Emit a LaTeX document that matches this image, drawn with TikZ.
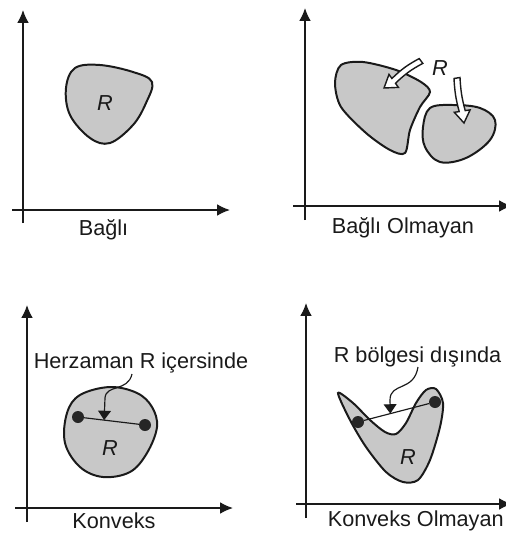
\documentclass[tikz,border=0pt]{standalone}
\usepackage{fontspec}
\setmainfont{Liberation Sans}
\usepackage{tikz}
\usetikzlibrary{calc,arrows.meta}
\definecolor{rg-line}{HTML}{1A1A1A}
\definecolor{rg-fill}{HTML}{C8C8C8}
\definecolor{rg-dot}{HTML}{262626}

\begin{document}
\begin{tikzpicture}[x=0.03cm, y=-0.03cm,
    axis/.style={line width=1.3pt, rg-line, -{Latex[length=11pt,width=10pt]}},
    region/.style={line width=1.7pt, rg-line, fill=rg-fill},
    hollow/.style={line width=1.2pt, rg-line, fill=white, line join=miter},
    caption/.style={font=\fontsize{18.5}{22}\selectfont, rg-line, anchor=base, inner sep=0.5pt},
    rname/.style={font=\fontsize{18.5}{22}\selectfont\itshape, rg-line},
    dot/.style={circle, fill=rg-dot, inner sep=0pt, minimum size=0.36cm},
    pointer/.style={line width=1pt, rg-line, -{Triangle[length=8pt,width=11pt]}}]
    \useasboundingbox (0,0) rectangle (506,534);
    % Bagli
    \draw[axis] (12,210) -- (230,210);
    \draw[axis] (23,223) -- (23,10);
    \draw[region] plot[smooth cycle, tension=0.6] coordinates {(75,68) (100,65) (133,72) (152,82) (146,103) (133,125) (110,143) (90,138) (70,115) (66,88)};
    \node[rname] (r1) at (105,103) {R};
    \node[caption] (c1) at (103.5,235) {Bağlı};
    % Bagli Olmayan
    \draw[axis] (293,206) -- (512,206);
    \draw[axis] (305,220) -- (305,8);
    \draw[region] plot[smooth cycle, tension=0.5] coordinates {(341,65) (363,62) (396,70) (421,82) (430,92) (420,107) (410,130) (405,153) (390,150) (366,133) (341,107) (335,83)};
    \draw[region] plot[smooth cycle, tension=0.6] coordinates {(430,108) (453,105) (480,108) (495,120) (490,140) (466,158) (440,162) (425,147) (423,127)};
    \node[rname] (r2) at (440,68) {R};
    \draw[hollow] (419.2,58.6) to[bend right=8] (391.9,78.5) -- (389.0,74.4) -- (384,88) -- (398.4,87.4) -- (395.5,83.3) to[bend left=8] (422.8,63.4) -- cycle;
    \draw[hollow] (454.0,78.5) to[bend right=6] (459.2,111.6) -- (454.3,112.3) -- (464,123) -- (470.1,109.9) -- (465.2,110.6) to[bend left=6] (460.0,77.5) -- cycle;
    \node[caption, anchor=base west] (c2) at (331,233) {Bağlı Olmayan};
    % Konveks
    \draw[axis] (15,508) -- (233,508);
    \draw[axis] (27,522) -- (27,305);
    \draw[region] plot[smooth cycle, tension=0.6] coordinates {(80,395) (110,387) (137,393) (152,407) (157,427) (147,453) (130,472) (103,477) (80,467) (65,443) (67,413)};
    \node[rname] (r3) at (110,448) {R};
    \node[dot] (da) at (78,417) {};
    \node[dot] (db) at (145,425) {};
    \draw[line width=1pt, rg-line] (da) -- (db);
    \node[caption] (t3) at (141,368) {Herzaman R içersinde};
    \coordinate (s3) at (132,374);
    \coordinate (m3) at ($(da)!0.39!(db)$);
    \draw[pointer] (s3) .. controls (128,392) and (106,384) .. (105,398) -- (m3);
    \node[caption] (c3) at (114,528) {Konveks};
    % Konveks Olmayan
    \draw[axis] (296,504) -- (512,504);
    \draw[axis] (306,518) -- (306,303);
    \draw[region] plot[smooth cycle, tension=0.5] coordinates {(338,393) (350,420) (366,447) (386,472) (403,482) (418,480) (430,460) (440,427) (443,403) (436,389) (426,390) (416,403) (406,423) (396,434) (385,432) (370,420) (353,403)};
    \node[rname] (r4) at (408,457) {R};
    \node[dot] (dc) at (358,422) {};
    \node[dot] (dd) at (435,402) {};
    \draw[line width=1pt, rg-line] (dc) -- (dd);
    \node[caption, anchor=base west] (t4) at (333,362) {R bölgesi dışında};
    \coordinate (s4) at (418,367);
    \coordinate (m4) at ($(dc)!0.42!(dd)$);
    \draw[pointer] (s4) .. controls (414,392) and (390,382) .. (390,400) -- (m4);
    \node[caption, anchor=base west] (c4) at (327,526) {Konveks Olmayan};
\end{tikzpicture}
\end{document}
